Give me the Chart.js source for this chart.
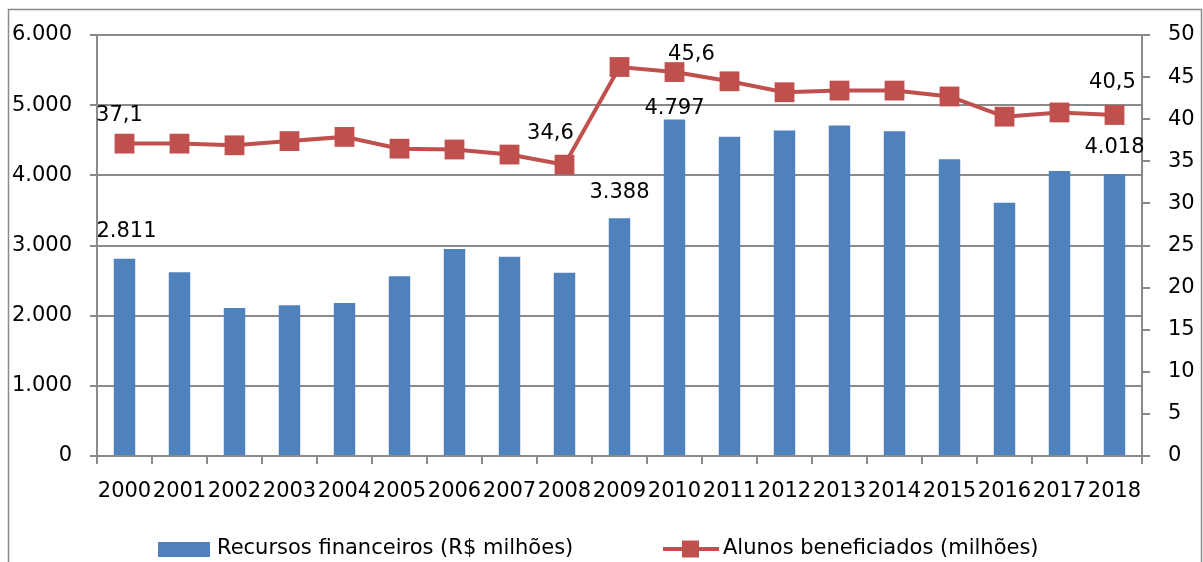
<!DOCTYPE html>
<html>
<head>
<meta charset="utf-8">
<script src="https://cdn.jsdelivr.net/npm/chart.js@4.4.0/dist/chart.umd.min.js"></script>
<style>
    html, body { margin: 0; padding: 0; background: #fff; }
    #wrap { width: 1203px; height: 562px; }
</style>
</head>
<body>
<div id="wrap"><canvas id="mainChart" width="1203" height="562"></canvas></div>
<script>
// data
const years = ["2000", "2001", "2002", "2003", "2004", "2005", "2006", "2007", "2008", "2009",
               "2010", "2011", "2012", "2013", "2014", "2015", "2016", "2017", "2018"];
const recursos = [2811, 2620, 2110, 2150, 2180, 2560, 2950, 2840, 2610, 3388,
                  4797, 4550, 4640, 4710, 4630, 4230, 3610, 4060, 4018];
const alunos = [37.1, 37.1, 36.9, 37.4, 37.9, 36.5, 36.4, 35.8, 34.6, 46.2,
                45.6, 44.5, 43.2, 43.4, 43.4, 42.7, 40.3, 40.8, 40.5];
// which points carry a value label
const recursosLabelIdx = [0, 9, 10, 18];
const alunosLabelIdx = [0, 8, 10, 18];

const recursosName = "Recursos financeiros (R$ milhões)";
const alunosName = "Alunos beneficiados (milhões)";

const BLUE = "#4F81BD";
const RED = "#C0504D";
const GRID = "#8a8a8a";
const FONT = "'DejaVu Sans', sans-serif";

const fmtThousands = v => String(v).replace(/\B(?=(\d{3})+(?!\d))/g, ".");
const fmtDecimal = v => v.toFixed(1).replace(".", ",");

// label offsets (dx, dy from the mark) so labels sit where the original has them
const labelOffsets = {
    bar: { 0: [2, -27], 9: [0, -26], 10: [0, -11], 18: [0, -27] },
    line: { 0: [-5, -28], 8: [-14, -31], 10: [17, -18], 18: [-2, -32] }
};

/* ------------------------------
   Value labels
--------------------------------*/
const valueLabels = {
    id: "valueLabels",
    afterDatasetsDraw(chart) {
        const ctx = chart.ctx;
        ctx.save();
        ctx.font = "21px " + FONT;
        ctx.fillStyle = "#000";
        ctx.textAlign = "center";
        ctx.textBaseline = "middle";

        const barMeta = chart.getDatasetMeta(1);
        recursosLabelIdx.forEach(i => {
            const el = barMeta.data[i];
            const [dx, dy] = labelOffsets.bar[i] || [0, -20];
            ctx.fillText(fmtThousands(recursos[i]), el.x + dx, el.y + dy);
        });

        const lineMeta = chart.getDatasetMeta(0);
        alunosLabelIdx.forEach(i => {
            const el = lineMeta.data[i];
            const [dx, dy] = labelOffsets.line[i] || [0, -20];
            ctx.fillText(fmtDecimal(alunos[i]), el.x + dx, el.y + dy);
        });
        ctx.restore();
    }
};

/* ------------------------------
   Frame + legend at the bottom
--------------------------------*/
const frameAndLegend = {
    id: "frameAndLegend",
    afterDraw(chart) {
        const ctx = chart.ctx;
        ctx.save();
        ctx.strokeStyle = GRID;
        ctx.lineWidth = 1.5;
        ctx.strokeRect(8.5, 9.5, 1193, 620);

        const y = 549;
        ctx.font = "21px " + FONT;
        ctx.textBaseline = "middle";
        ctx.textAlign = "left";

        ctx.fillStyle = BLUE;
        ctx.fillRect(158, 542, 52, 15);
        ctx.fillStyle = "#000";
        ctx.fillText(recursosName, 217, y);

        ctx.strokeStyle = RED;
        ctx.lineWidth = 4;
        ctx.beginPath();
        ctx.moveTo(663, y);
        ctx.lineTo(719, y);
        ctx.stroke();
        ctx.fillStyle = RED;
        ctx.fillRect(682, y - 8.5, 17, 17);
        ctx.fillStyle = "#000";
        ctx.fillText(alunosName, 723, y);
        ctx.restore();
    }
};

const ctx = document.getElementById("mainChart");

new Chart(ctx, {
    data: {
        labels: years,
        datasets: [
            {
                type: "line",
                label: alunosName,
                data: alunos,
                yAxisID: "yRight",
                borderColor: RED,
                backgroundColor: RED,
                borderWidth: 4,
                pointStyle: "rect",
                pointRadius: 14,
                pointBackgroundColor: RED,
                pointBorderColor: RED,
                pointBorderWidth: 0,
                tension: 0,
                order: 0
            },
            {
                type: "bar",
                label: recursosName,
                data: recursos,
                yAxisID: "yLeft",
                backgroundColor: BLUE,
                borderWidth: 0,
                categoryPercentage: 1,
                barPercentage: 0.39,
                order: 1
            }
        ]
    },
    options: {
        responsive: false,
        animation: false,
        layout: { padding: { top: 35, left: 0, right: 0, bottom: 0 } },
        plugins: {
            legend: { display: false },
            tooltip: { enabled: false }
        },
        scales: {
            x: {
                offset: true,
                grid: { offset: true, drawOnChartArea: false, tickLength: 8, color: GRID, lineWidth: 2 },
                border: { color: GRID, width: 2 },
                ticks: { color: "#000", font: { family: FONT, size: 21 }, padding: 15, maxRotation: 0, autoSkip: false },
                afterFit(scale) { scale.height = 106; }
            },
            yLeft: {
                position: "left",
                min: 0,
                max: 6000,
                ticks: { stepSize: 1000, color: "#000", font: { family: FONT, size: 21 }, padding: 18, callback: v => fmtThousands(v) },
                grid: { color: GRID, lineWidth: 2, tickLength: 7 },
                border: { color: GRID, width: 2 },
                afterFit(scale) { scale.width = 97; }
            },
            yRight: {
                position: "right",
                min: 0,
                max: 50,
                ticks: { stepSize: 5, color: "#000", font: { family: FONT, size: 21 }, padding: 18 },
                grid: { drawOnChartArea: false, color: GRID, lineWidth: 2, tickLength: 8 },
                border: { color: GRID, width: 2 },
                afterFit(scale) { scale.width = 61; }
            }
        }
    },
    plugins: [valueLabels, frameAndLegend]
});
</script>
</body>
</html>
